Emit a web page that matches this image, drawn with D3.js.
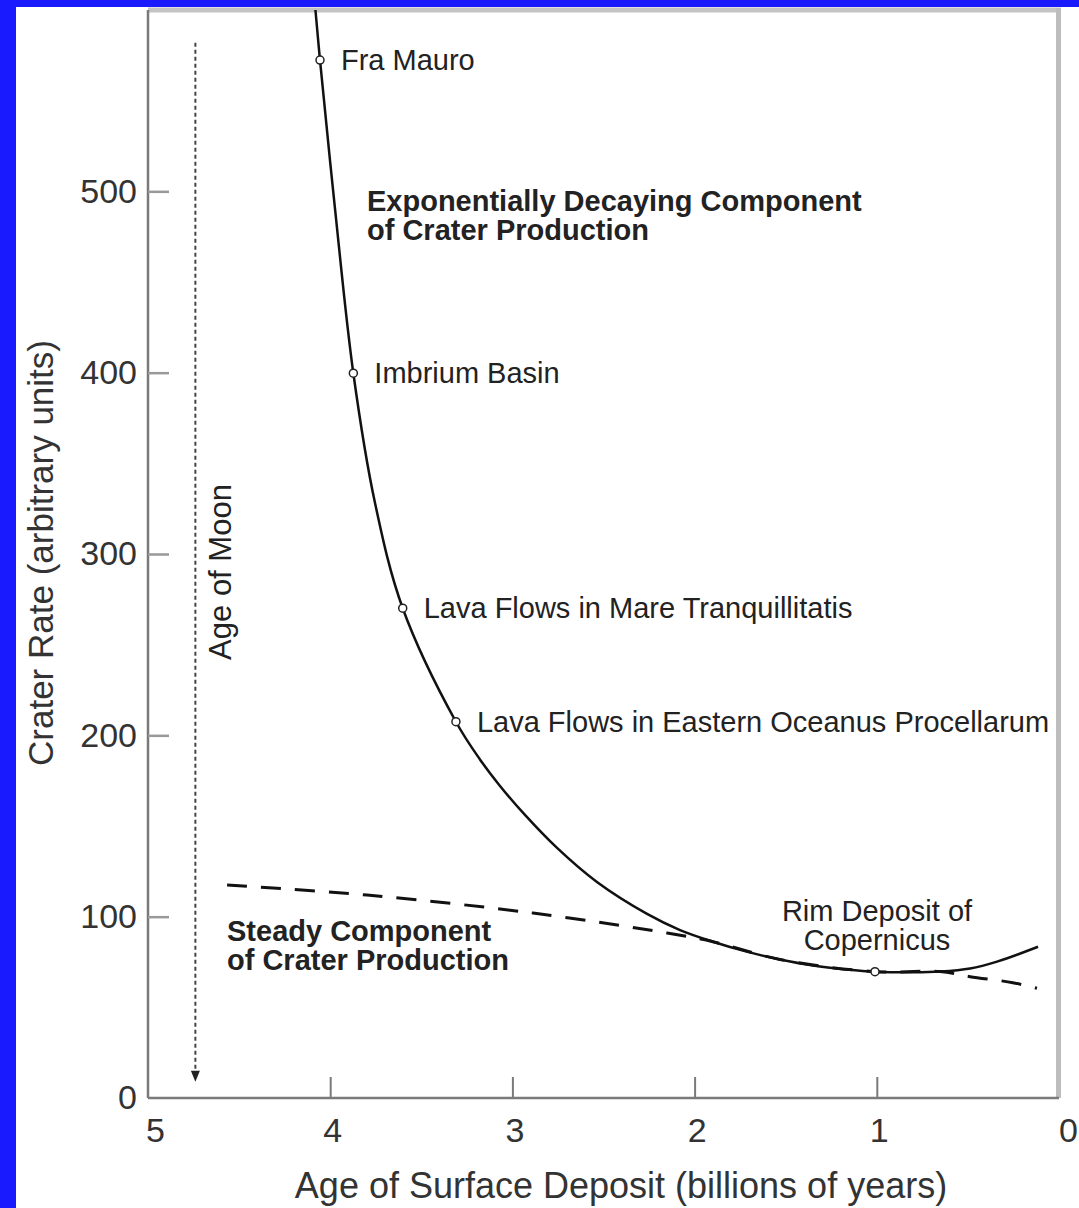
<!DOCTYPE html>
<html>
<head>
<meta charset="utf-8">
<script src="https://cdn.jsdelivr.net/npm/d3@7"></script>
<style>
  html, body { margin: 0; padding: 0; background: #1a1aff; }
  svg { display: block; }
  text { font-family: "Liberation Sans", Arial, Helvetica, sans-serif; }
</style>
</head>
<body>
<svg id="chart" width="1079" height="1208"></svg>
<script>
// ---- data ----
const curveAges  = [4.081, 4.056, 3.974, 3.873, 3.754, 3.602, 3.310, 3.178, 3.068, 2.931, 2.755, 2.536, 2.261, 2.080, 1.899, 1.714, 1.531, 1.350, 1.165, 1.010, 0.802, 0.653, 0.488, 0.340, 0.115];
const curveRates = [600.0, 572.4, 490.8, 399.7, 328.1, 270.1, 207.5, 186.7, 172.1, 156.1, 137.9, 119.1, 101.5, 92.6,  86.2,  80.7,  76.4,  73.1,  70.9,  69.65, 69.3,  69.7,  71.4,  75.2,  83.4];

const steadyAges  = [4.566, 3.798, 2.887, 2.151, 1.899, 1.531, 1.010, 0.653, 0.488, 0.253, 0.121];
const steadyRates = [117.5, 111.9, 102.0, 91.0,  86.2,  76.4,  69.65, 69.7,  66.9,  63.6,  60.5];

const siteNames = ["Fra Mauro", "Imbrium Basin", "Lava Flows in Mare Tranquillitatis", "Lava Flows in Eastern Oceanus Procellarum", "Rim Deposit of Copernicus"];
const siteAges  = [4.056, 3.873, 3.602, 3.310, 1.010];
const siteRates = [572.4, 399.7, 270.1, 207.5, 69.65];

const xTicks = [5, 4, 3, 2, 1, 0];
const yTicks = [0, 100, 200, 300, 400, 500];

const xTitle = "Age of Surface Deposit (billions of years)";
const yTitle = "Crater Rate (arbitrary units)";
const moonLabel = "Age of Moon";
const moonAge = 4.74;
const expLabel = ["Exponentially Decaying Component", "of Crater Production"];
const steadyLabel = ["Steady Component", "of Crater Production"];
const copLines = ["Rim Deposit of", "Copernicus"];

// ---- drawing ----
const svg = d3.select("#chart");
// white panel
svg.append("rect").attr("x", 16).attr("y", 7).attr("width", 1079 - 16).attr("height", 1208 - 7).attr("fill", "#ffffff");

const x = d3.scaleLinear().domain([5, 0]).range([148, 1059]);
const y = d3.scaleLinear().domain([0, 600]).range([1098, 10]);

const axisGray = "#7a7a7a";

// top and right frame
svg.append("line").attr("x1", 148).attr("x2", 1061).attr("y1", 10).attr("y2", 10)
  .attr("stroke", "#c4c4c4").attr("stroke-width", 5);
svg.append("line").attr("x1", 1058.5).attr("x2", 1058.5).attr("y1", 8).attr("y2", 1098)
  .attr("stroke", "#bdbdbd").attr("stroke-width", 5);

// axes
const xAxis = d3.axisBottom(x).tickValues(xTicks).tickSize(-21).tickSizeOuter(0).tickPadding(20)
  .tickFormat(d3.format("d"));
const gx = svg.append("g").attr("transform", "translate(0,1098)").call(xAxis);
gx.select(".domain").attr("stroke", axisGray).attr("stroke-width", 2.5).attr("d", "M148,0H1059");
gx.selectAll(".tick line").attr("stroke", axisGray).attr("stroke-width", 2)
  .attr("display", d => (d === 5 || d === 0) ? "none" : null);
gx.selectAll(".tick text").attr("font-size", 34).attr("fill", "#333")
  .attr("dx", d => d === 5 ? 7 : (d === 0 ? 9 : 2));

const yAxis = d3.axisLeft(y).tickValues(yTicks).tickSize(-21).tickSizeOuter(0).tickPadding(11)
  .tickFormat(d3.format("d"));
const gy = svg.append("g").attr("transform", "translate(148,0)").call(yAxis);
gy.select(".domain").attr("stroke", axisGray).attr("stroke-width", 2.5).attr("d", "M0,10V1098");
gy.selectAll(".tick line").attr("stroke", "#999").attr("stroke-width", 2.5)
  .attr("display", d => d === 0 ? "none" : null);
gy.selectAll(".tick text").attr("font-size", 34).attr("fill", "#333");

// axis titles
svg.append("text").attr("x", 621).attr("y", 1198).attr("text-anchor", "middle")
  .attr("font-size", 36).attr("fill", "#333").text(xTitle);
svg.append("text").attr("transform", "translate(53,553) rotate(-90)").attr("text-anchor", "middle")
  .attr("font-size", 35).attr("fill", "#333").text(yTitle);

// Age of Moon dotted arrow
const mx = x(moonAge);
svg.append("line").attr("x1", mx).attr("x2", mx).attr("y1", y(582)).attr("y2", y(12))
  .attr("stroke", "#444").attr("stroke-width", 2).attr("stroke-dasharray", "4,3");
svg.append("path")
  .attr("d", `M${mx - 4.5},${y(15)} L${mx + 4.5},${y(15)} L${mx},${y(9)} Z`)
  .attr("fill", "#222");
svg.append("text").attr("transform", `translate(${mx + 36},572) rotate(-90)`).attr("text-anchor", "middle")
  .attr("font-size", 31).attr("fill", "#222").text(moonLabel);

const lineGen = d3.line().x(d => x(d[0])).y(d => y(d[1])).curve(d3.curveCatmullRom.alpha(0.5));

// steady component (dashed)
const steadyData = steadyAges.map((a, i) => [a, steadyRates[i]]);
svg.append("path").datum(steadyData).attr("d", lineGen)
  .attr("fill", "none").attr("stroke", "#111").attr("stroke-width", 3).attr("stroke-dasharray", "20,14");

// total crater rate curve
const curveData = curveAges.map((a, i) => [a, curveRates[i]]);
svg.append("path").datum(curveData).attr("d", lineGen)
  .attr("fill", "none").attr("stroke", "#111").attr("stroke-width", 2.5);

// site markers
const sites = siteNames.map((n, i) => ({ name: n, age: siteAges[i], rate: siteRates[i] }));
svg.selectAll("circle.site").data(sites).enter().append("circle").attr("class", "site")
  .attr("cx", d => x(d.age)).attr("cy", d => y(d.rate)).attr("r", 4)
  .attr("fill", "#fff").attr("stroke", "#222").attr("stroke-width", 1.5);

// site labels
const labelG = svg.append("g").attr("font-size", 29).attr("fill", "#222");
sites.slice(0, 4).forEach(d => {
  labelG.append("text").attr("x", x(d.age) + 21).attr("y", y(d.rate) + 10).text(d.name);
});
const cop = sites[4];
copLines.forEach((t, i) => {
  labelG.append("text").attr("x", x(cop.age) + 2).attr("y", y(cop.rate) - 51 + i * 29)
    .attr("text-anchor", "middle").text(t);
});

// bold component labels
const boldG = svg.append("g").attr("font-size", 29).attr("font-weight", "bold").attr("fill", "#222");
expLabel.forEach((t, i) => boldG.append("text").attr("x", 367).attr("y", 211 + i * 29).text(t));
steadyLabel.forEach((t, i) => boldG.append("text").attr("x", 227).attr("y", 941 + i * 29).text(t));
</script>
</body>
</html>
